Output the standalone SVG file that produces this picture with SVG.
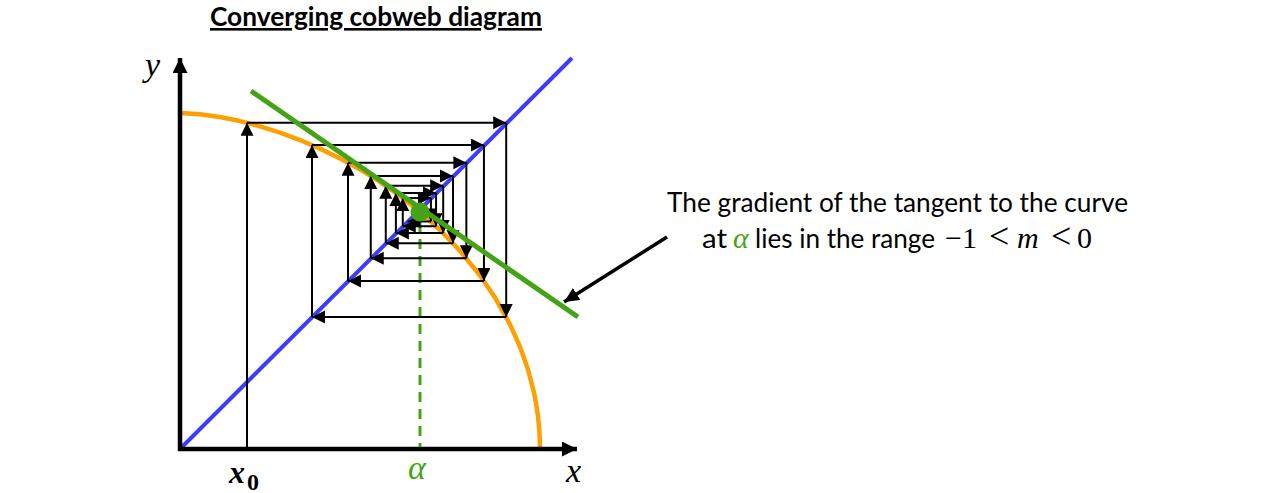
<svg xmlns="http://www.w3.org/2000/svg" width="1280" height="493" viewBox="0 0 1280 493">
<defs>
<style>
.txt{font-family:Lato,"Open Sans","Liberation Sans",sans-serif;fill:#000}
.math{font-family:"Liberation Serif","DejaVu Serif",serif;fill:#000}
.cw{stroke:#000;stroke-width:2;fill:none;marker-end:url(#ah)}
.axis{stroke:#000;stroke-width:4.5;fill:none;marker-end:url(#axh)}
</style>
<marker id="ah" markerUnits="userSpaceOnUse" markerWidth="14" markerHeight="14" refX="13" refY="6.5" orient="auto">
<path d="M0,0 L13,6.5 L0,13 Z" fill="#000"/>
</marker>
<marker id="axh" markerUnits="userSpaceOnUse" markerWidth="16" markerHeight="16" refX="15" refY="7.5" orient="auto">
<path d="M0,0 L15,7.5 L0,15 Z" fill="#000"/>
</marker>
<marker id="ann" markerUnits="userSpaceOnUse" markerWidth="16" markerHeight="16" refX="15" refY="7" orient="auto">
<path d="M0,0 L15,7 L0,14 Z" fill="#000"/>
</marker>
</defs>
<rect width="1280" height="493" fill="#fff"/>

<g id="title">
<text class="txt" x="210" y="26" font-size="26" font-weight="bold" textLength="332" lengthAdjust="spacingAndGlyphs" style="text-decoration:underline">Converging cobweb diagram</text>
</g>

<g id="curve">
<polyline fill="none" stroke="#FFA000" stroke-width="4.5" stroke-linejoin="round" points="180,113 200,114.24 220,117.03 240,121.08 260,126.29 280,132.61 300,140.04 320,148.62 340,158.39 360,169.45 380,181.92 400,195.97 420,211.87 440,229.98 460,250.88 480,275.54 495,297.58 510,324.41 520,346.76 528,369.49 534,392.61 536,402.9 538,416.38 539.5,432.68 540,449"/>
</g>

<g id="diagonal">
<line x1="180" y1="449" x2="572" y2="58" stroke="#3C3CFF" stroke-width="4"/>
</g>

<g id="axes">
<line class="axis" x1="180" y1="451" x2="180" y2="58"/>
<line class="axis" x1="178" y1="449" x2="577" y2="449"/>
</g>

<g id="alpha-guide">
<line x1="420" y1="222" x2="420" y2="447" stroke="#45A317" stroke-width="3" stroke-dasharray="10,7"/>
</g>

<g id="cobweb">
<line class="cw" x1="247" y1="449" x2="247" y2="122.8"/>
<line class="cw" x1="247" y1="122.8" x2="506.2" y2="122.8"/>
<line class="cw" x1="506.2" y1="122.8" x2="506.2" y2="317"/>
<line class="cw" x1="506.2" y1="317" x2="312" y2="317"/>
<line class="cw" x1="312" y1="317" x2="312" y2="145.05"/>
<line class="cw" x1="312" y1="145.05" x2="483.95" y2="145.05"/>
<line class="cw" x1="483.95" y1="145.05" x2="483.95" y2="281"/>
<line class="cw" x1="483.95" y1="281" x2="348" y2="281"/>
<line class="cw" x1="348" y1="281" x2="348" y2="162.65"/>
<line class="cw" x1="348" y1="162.65" x2="466.35" y2="162.65"/>
<line class="cw" x1="466.35" y1="162.65" x2="466.35" y2="258.24"/>
<line class="cw" x1="466.35" y1="258.24" x2="370.76" y2="258.24"/>
<line class="cw" x1="370.76" y1="258.24" x2="370.76" y2="175.97"/>
<line class="cw" x1="370.76" y1="175.97" x2="453.03" y2="175.97"/>
<line class="cw" x1="453.03" y1="175.97" x2="453.03" y2="243.23"/>
<line class="cw" x1="453.03" y1="243.23" x2="385.77" y2="243.23"/>
<line class="cw" x1="385.77" y1="243.23" x2="385.77" y2="185.8"/>
<line class="cw" x1="385.77" y1="185.8" x2="443.2" y2="185.8"/>
<line class="cw" x1="443.2" y1="185.8" x2="443.2" y2="233.12"/>
<line class="cw" x1="443.2" y1="233.12" x2="395.88" y2="233.12"/>
<line class="cw" x1="395.88" y1="233.12" x2="395.88" y2="192.94"/>
<line class="cw" x1="395.88" y1="192.94" x2="436.06" y2="192.94"/>
<line class="cw" x1="436.06" y1="192.94" x2="436.06" y2="226.22"/>
<line class="cw" x1="436.06" y1="226.22" x2="402.78" y2="226.22"/>
<line class="cw" x1="402.78" y1="226.22" x2="402.78" y2="198.06"/>
<line class="cw" x1="402.78" y1="198.06" x2="430.94" y2="198.06"/>
<line class="cw" x1="430.94" y1="198.06" x2="430.94" y2="221.47"/>
<line class="cw" x1="430.94" y1="221.47" x2="407.53" y2="221.47"/>
<line x1="667" y1="237" x2="564" y2="302" stroke="#000" stroke-width="3.5" marker-end="url(#ann)"/>
</g>

<g id="tangent">
<line x1="251" y1="91" x2="578" y2="317" stroke="#45A317" stroke-width="5"/>
</g>

<g id="fixed-point">
<circle cx="420" cy="212" r="9.5" fill="#45A317"/>
</g>

<g id="axis-labels">
<text class="math" x="145" y="76" font-size="34" font-style="italic">y</text>
<text class="math" x="566" y="482" font-size="34" font-style="italic">x</text>
<text class="math" x="408" y="479" font-size="34" font-style="italic" style="fill:#45A317">α</text>
<text class="math" x="229" y="483" font-size="32" font-style="italic" font-weight="bold">x</text>
<text class="math" x="247" y="490" font-size="24" font-weight="bold">0</text>
</g>

<g id="annotation">
<text class="txt" x="897.5" y="212" font-size="26" text-anchor="middle" textLength="461" lengthAdjust="spacingAndGlyphs">The gradient of the tangent to the curve</text>
<text class="txt" y="248" font-size="26"><tspan x="702" textLength="25" lengthAdjust="spacingAndGlyphs">at</tspan><tspan class="math" x="733" font-style="italic" font-size="30" style="fill:#45A317">α</tspan><tspan x="755" textLength="180" lengthAdjust="spacingAndGlyphs">lies in the range</tspan><tspan class="math" x="945" font-size="30">−1</tspan><tspan class="math" x="989" font-size="36">&lt;</tspan><tspan class="math" x="1017" font-size="30" font-style="italic">m</tspan><tspan class="math" x="1051" font-size="36">&lt;</tspan><tspan class="math" x="1077" font-size="30">0</tspan></text>
</g>
</svg>
